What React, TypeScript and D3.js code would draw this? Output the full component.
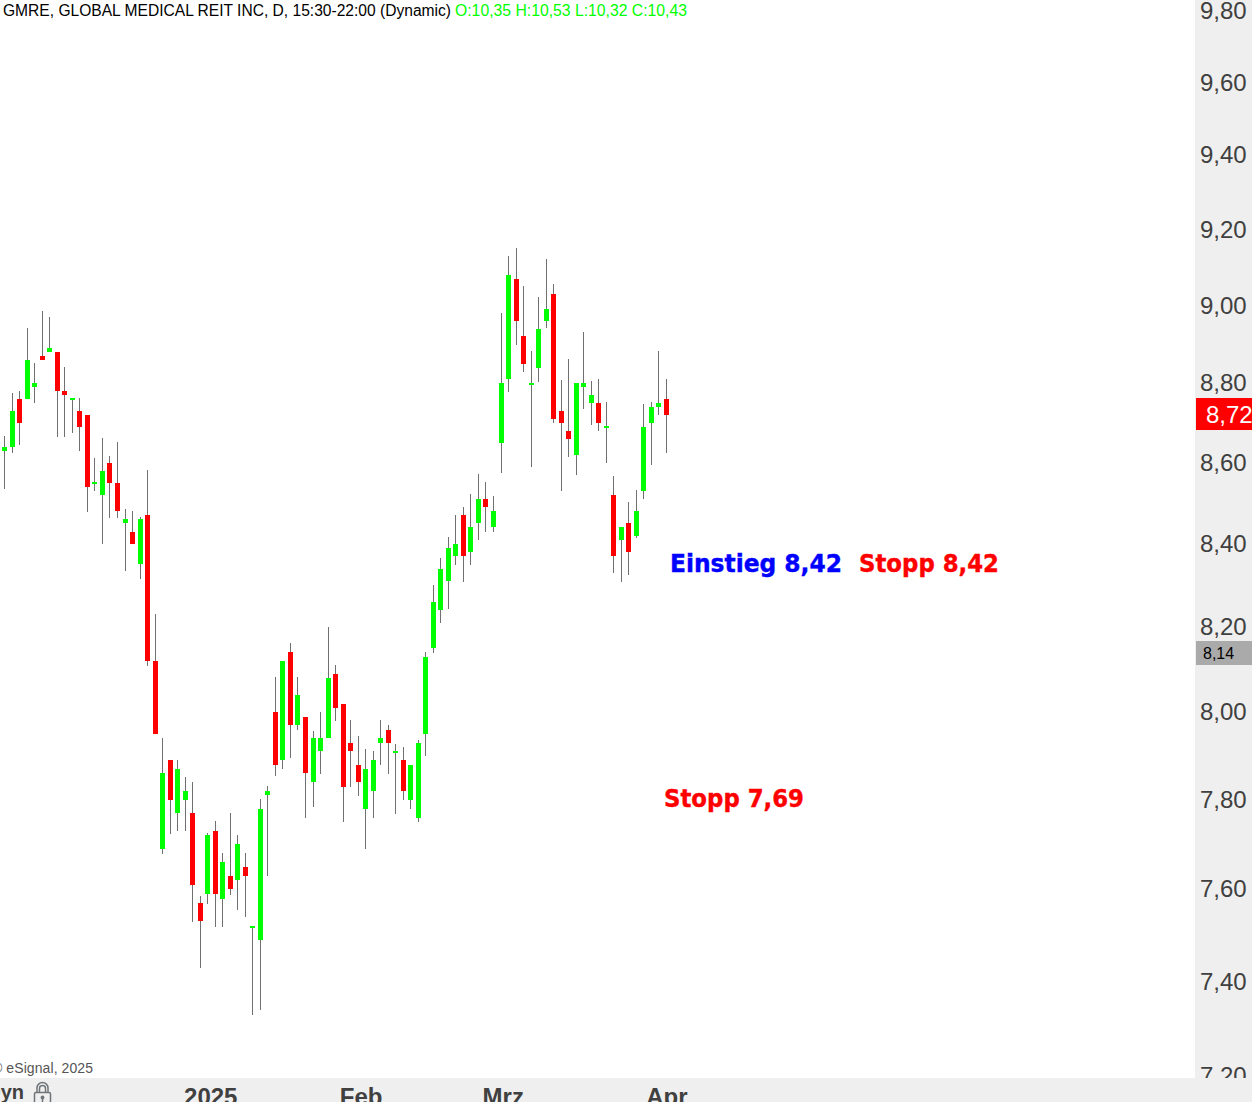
import React from "react";
import * as d3 from "d3";

const opens = [8.628,8.638,8.758,8.758,8.789,8.868,8.879,8.879,8.779,8.756,8.728,8.718,8.546,8.519,8.598,8.548,8.450,8.428,8.350,8.469,
8.119,7.689,7.889,7.769,7.798,7.769,7.569,7.589,7.729,7.578,7.629,7.620,7.649,7.515,7.489,7.809,7.999,7.889,8.140,7.969,
7.988,7.839,7.910,7.940,8.089,8.018,7.928,7.878,7.778,7.818,7.928,7.958,7.905,7.889,7.798,7.758,7.949,8.150,8.240,8.309,
8.369,8.469,8.379,8.450,8.509,8.440,8.648,8.809,9.068,8.920,8.794,8.837,8.958,9.029,8.728,8.678,8.618,8.789,8.748,8.748,
8.686,8.519,8.408,8.450,8.418,8.529,8.698,8.738,8.758];
const closes = [8.638,8.728,8.698,8.858,8.799,8.858,8.889,8.779,8.769,8.761,8.688,8.538,8.551,8.578,8.548,8.479,8.460,8.398,8.460,8.119,
7.949,7.860,7.798,7.869,7.818,7.609,7.530,7.720,7.589,7.660,7.600,7.700,7.629,7.519,7.778,7.818,7.878,8.119,7.969,8.039,
7.860,7.940,7.940,8.079,8.009,7.827,7.910,7.839,7.869,7.889,7.940,7.928,7.910,7.818,7.878,7.928,8.128,8.259,8.338,8.388,
8.398,8.369,8.440,8.509,8.489,8.479,8.799,9.079,8.958,8.848,8.799,8.938,8.989,8.708,8.698,8.658,8.799,8.799,8.769,8.698,
8.691,8.369,8.440,8.379,8.479,8.688,8.738,8.748,8.718];
const highs = [8.665,8.774,8.779,8.940,8.850,8.984,8.969,8.879,8.840,8.761,8.761,8.718,8.610,8.660,8.615,8.650,8.484,8.479,8.465,8.580,
8.230,7.940,7.889,7.889,7.850,7.839,7.585,7.724,7.751,7.680,7.769,7.720,7.680,7.519,7.800,7.830,8.081,8.119,8.161,8.081,
7.988,7.956,7.999,8.199,8.110,8.018,7.981,7.944,7.915,7.910,7.981,7.970,7.926,7.919,7.878,7.935,8.140,8.300,8.364,8.415,
8.469,8.489,8.521,8.570,8.551,8.516,8.979,9.129,9.150,9.050,8.882,9.021,9.121,9.055,8.806,8.861,8.799,8.930,8.804,8.809,
8.751,8.566,8.440,8.501,8.531,8.746,8.751,8.882,8.809];
const lows = [8.534,8.623,8.643,8.758,8.748,8.858,8.879,8.663,8.663,8.673,8.628,8.477,8.529,8.398,8.462,8.462,8.333,8.398,8.314,8.107,
7.949,7.678,7.722,7.729,7.729,7.528,7.428,7.567,7.517,7.517,7.587,7.554,7.539,7.328,7.339,7.629,7.853,7.869,7.894,7.958,
7.758,7.782,7.857,7.940,7.979,7.749,7.827,7.807,7.689,7.758,7.878,7.857,7.767,7.798,7.778,7.749,7.899,8.138,8.208,8.242,
8.348,8.307,8.348,8.408,8.428,8.428,8.573,8.776,8.897,8.827,8.588,8.801,8.940,8.698,8.529,8.613,8.568,8.733,8.693,8.678,
8.598,8.329,8.307,8.324,8.413,8.509,8.593,8.718,8.623];

const priceTicks = [9.8,9.6,9.4,9.2,9.0,8.8,8.6,8.4,8.2,8.0,7.8,7.6,7.4,7.2];
const monthLabels = ["2025","Feb","Mrz","Apr"];
const monthPositions = [27.4,47.4,66.3,88.05];
const lastPrice = 8.72;
const markerPrice = 8.14;
const titleText = "GMRE, GLOBAL MEDICAL REIT INC, D, 15:30-22:00 (Dynamic)";
const ohlcText = "O:10,35 H:10,53 L:10,32 C:10,43";

const x = d3.scaleLinear().domain([0, 88]).range([4.7, 666.46]);
const y = d3.scaleLog().domain([7.2, 9.6]).range([1075.7, 82]);
const fmt = (v: number) => d3.format(".2f")(v).replace(".", ",");
const SANS = "'Liberation Sans', Arial, sans-serif";
const HEAVY = "'DejaVu Sans', sans-serif";

export default function App() {
  const idx = d3.range(opens.length);
  return (
    <svg width={1252} height={1102} style={{ position: "fixed", left: 0, top: 0, background: "#fff" }}>
      <g shapeRendering="crispEdges">
        {idx.map((i) => {
          const px = Math.floor(x(i));
          const top = Math.round(y(Math.max(opens[i], closes[i])));
          const bot = Math.round(y(Math.min(opens[i], closes[i])));
          const hi = Math.round(y(highs[i]));
          const lo = Math.round(y(lows[i]));
          return (
            <g key={i}>
              <rect x={px} y={hi} width={1} height={lo - hi} fill="#707070" />
              <rect x={px - 2} y={top} width={5} height={Math.max(bot - top, 2)} fill={closes[i] >= opens[i] ? "#00ff00" : "#ff0000"} />
            </g>
          );
        })}
      </g>

      <text x={3} y={16} fontFamily={SANS} fontSize={16} fill="#000" textLength={448} lengthAdjust="spacingAndGlyphs">{titleText}</text>
      <text x={455} y={16} fontFamily={SANS} fontSize={16} fill="#00ff00" textLength={232} lengthAdjust="spacingAndGlyphs">{ohlcText}</text>

      <text x={-8} y={1073} fontFamily={SANS} fontSize={14} fill="#555" textLength={101} lengthAdjust="spacing">© eSignal, 2025</text>

      <text x={670} y={572} fontFamily={HEAVY} fontWeight="bold" fontSize={24} fill="#0000ff" stroke="#0000ff" strokeWidth={0.4} textLength={172} lengthAdjust="spacingAndGlyphs">Einstieg 8,42</text>
      <text x={859} y={572} fontFamily={HEAVY} fontWeight="bold" fontSize={24} fill="#ff0000" stroke="#ff0000" strokeWidth={0.4} textLength={140} lengthAdjust="spacingAndGlyphs">Stopp 8,42</text>
      <text x={664} y={807} fontFamily={HEAVY} fontWeight="bold" fontSize={24} fill="#ff0000" stroke="#ff0000" strokeWidth={0.4} textLength={140} lengthAdjust="spacingAndGlyphs">Stopp 7,69</text>

      <rect x={1195} y={0} width={57} height={1102} fill="#efefef" />
      {priceTicks.map((t) => (
        <text key={t} x={1200} y={Math.round(y(t) + (t >= 8.5 ? 8.7 : 8.5))} fontFamily={SANS} fontSize={24} fill="#404040">{fmt(t)}</text>
      ))}
      <rect x={1196} y={Math.round(y(lastPrice)) - 16} width={56} height={32} fill="#ff0000" />
      <text x={1206} y={Math.round(y(lastPrice)) + 9} fontFamily={SANS} fontSize={24} fill="#ffffff">{fmt(lastPrice)}</text>
      <rect x={1196} y={Math.round(y(markerPrice)) - 11} width={56} height={24} fill="#aaaaaa" />
      <text x={1203} y={Math.round(y(markerPrice)) + 7} fontFamily={SANS} fontSize={16} fill="#000">{fmt(markerPrice)}</text>

      <rect x={0} y={1078} width={1252} height={24} fill="#efefef" />
      {monthLabels.map((m, i) => (
        <text key={m} x={x(monthPositions[i])} y={1105} textAnchor="middle" fontFamily={SANS} fontWeight="bold" fontSize={24} fill="#404040">{m}</text>
      ))}
      <text x={24} y={1099} textAnchor="end" fontFamily={SANS} fontWeight="bold" fontSize={20} fill="#404040">Dyn</text>
      <g fill="none" stroke="#70757a" strokeWidth={1.5}>
        <path d="M34.5 1102 V1094 a1.5 1.5 0 0 1 1.5 -1.5 H49 a1.5 1.5 0 0 1 1.5 1.5 V1102" />
        <path d="M37 1092 V1088 a5.5 5.5 0 0 1 11 0 V1092" />
        <path d="M39.5 1092 V1088.5 a3 3 0 0 1 6 0 V1092" />
        <circle cx={42.5} cy={1097.5} r={1.2} fill="#70757a" />
        <path d="M42.5 1098 V1102" />
      </g>
    </svg>
  );
}
